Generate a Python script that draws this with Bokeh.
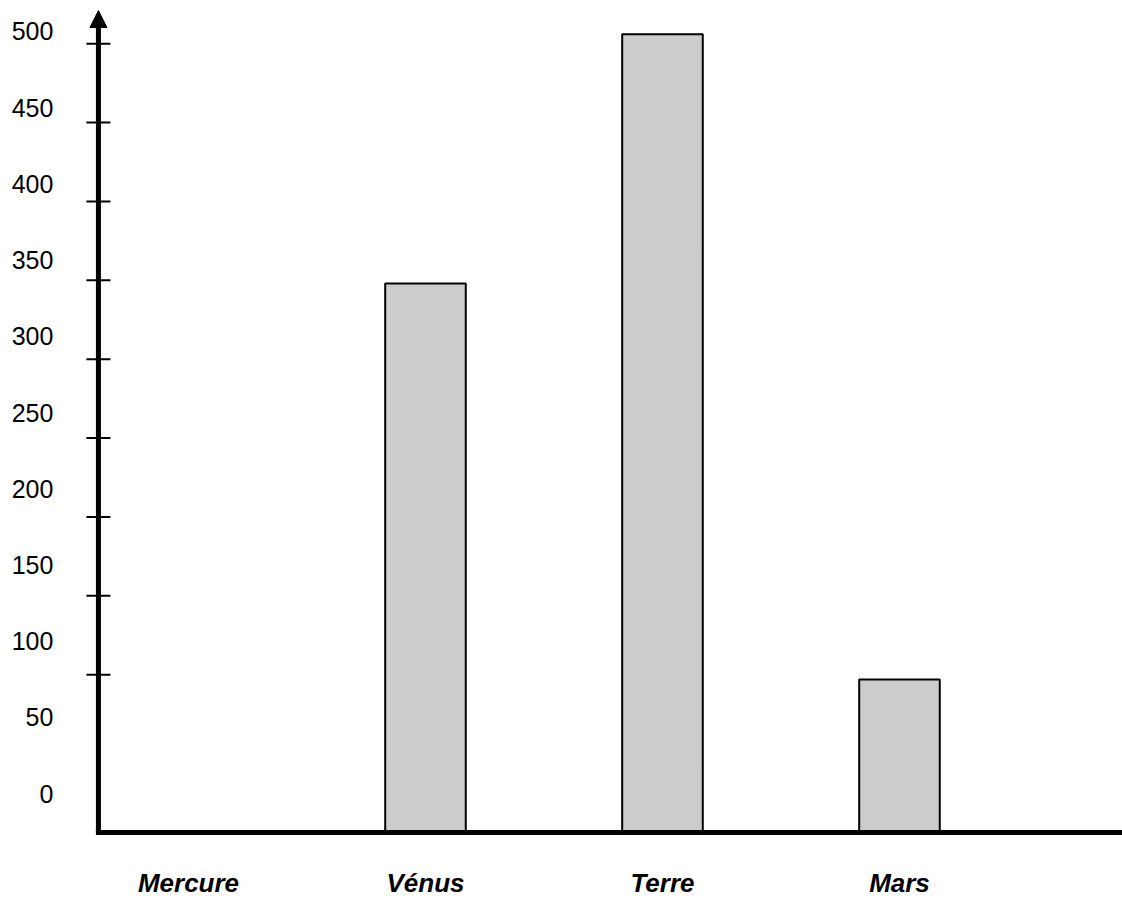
from bokeh.plotting import figure
from bokeh.models import (Range1d, FixedTicker, Arrow, NormalHead, ColumnDataSource)
from bokeh.core.properties import value
from bokeh.embed import file_html
from bokeh.resources import INLINE

# ---- data ----
planets = ["Mercure", "Vénus", "Terre", "Mars"]
values = [0, 348, 506, 97]
tick_values = [100, 150, 200, 250, 300, 350, 400, 450, 500]
label_values = [0, 50, 100, 150, 200, 250, 300, 350, 400, 450, 500]
label_texts = ["0", "50", "100", "150", "200", "250", "300", "350", "400", "450", "500"]

FONT = "Liberation Sans"
AXIS_X = -0.38      # position of the vertical axis (x units)
ARROW_TOP = 521     # top of the vertical arrow (y units)

xpos = list(range(len(planets)))
bars = ColumnDataSource(dict(x=xpos, top=values))
ticks = ColumnDataSource(dict(x=[AXIS_X] * len(tick_values), y=tick_values))
labels = ColumnDataSource(dict(x=[AXIS_X] * len(label_values), y=label_values,
                               t=label_texts))

p = figure(width=1122, height=900, output_backend="svg", toolbar_location=None,
           x_range=Range1d(-0.7932, 3.941), y_range=Range1d(-3.8, 527.4),
           y_axis_location=None,
           min_border_left=0, min_border_right=0, min_border_top=0,
           min_border_bottom=58)
p.outline_line_color = None
p.grid.visible = False
p.background_fill_color = "white"
p.border_fill_color = "white"

# second vertical scale on which the value labels sit
p.extra_y_ranges = {"labels": Range1d(-29.37, 520.2)}

# bars
p.vbar(x="x", top="top", bottom=0, width=0.34, source=bars,
       fill_color="#cccccc", line_color="black", line_width=2)

# baseline (x axis line)
p.segment(x0=[AXIS_X], y0=[0], x1=[p.x_range.end], y1=[0],
          line_color="black", line_width=5, line_cap="square")

# vertical axis with arrow head
p.add_layout(Arrow(end=NormalHead(size=17, fill_color="black", line_color="black",
                                  line_width=1),
                   x_start=AXIS_X, y_start=0, x_end=AXIS_X, y_end=ARROW_TOP,
                   line_width=5, line_color="black"))

# tick marks crossing the vertical axis
p.scatter(x="x", y="y", source=ticks, marker="dash", size=24,
          line_color="black", line_width=2)

# value labels
p.text(x="x", y="y", text="t", source=labels, y_range_name="labels",
       x_offset=-45, text_align="right", text_baseline="middle",
       text_font=value(FONT), text_font_size="25px", text_color="black")

# category labels
xa = p.xaxis[0]
xa.ticker = FixedTicker(ticks=xpos)
xa.major_label_overrides = {i: n for i, n in zip(xpos, planets)}
xa.axis_line_color = None
xa.major_tick_line_color = None
xa.minor_tick_line_color = None
xa.major_tick_out = 0
xa.major_tick_in = 0
xa.major_label_standoff = 29
xa.major_label_text_font = FONT
xa.major_label_text_font_size = "26px"
xa.major_label_text_font_style = "bold italic"
xa.major_label_text_color = "black"

open("out.html", "w").write(file_html(p, INLINE))
